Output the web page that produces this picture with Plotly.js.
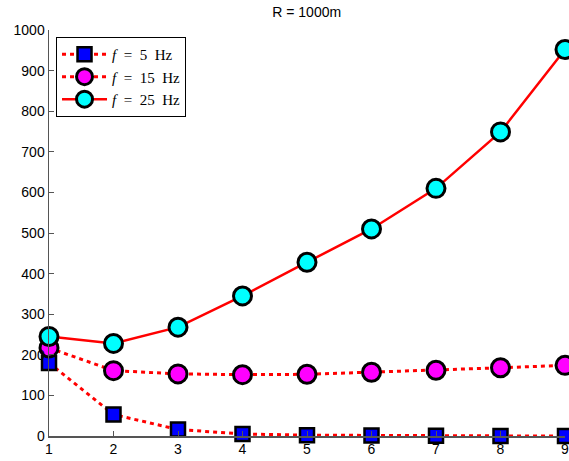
<!DOCTYPE html>
<html>
<head>
<meta charset="utf-8">
<script src="https://cdn.plot.ly/plotly-3.0.1.min.js"></script>
<style>html,body{margin:0;padding:0;background:#fff;}#chart{width:569px;height:461px;}</style>
</head>
<body>
<div id="chart"></div>
<script>
const xValues = [1, 2, 3, 4, 5, 6, 7, 8, 9];
const f5 = [180, 53, 16, 5, 2, 1, 0.5, 0.3, 0.2];
const f15 = [217, 161, 153, 151, 152, 157, 162, 168, 174];
const f25 = [245, 228, 268, 345, 428, 510, 610, 749, 952];
const seriesNames = ['<i>f</i>&nbsp; = &nbsp;5 &nbsp;Hz', '<i>f</i>&nbsp; = &nbsp;15 &nbsp;Hz', '<i>f</i>&nbsp; = &nbsp;25 &nbsp;Hz'];
const yTicks = [0, 100, 200, 300, 400, 500, 600, 700, 800, 900, 1000];

const traces = [
  {x: xValues, y: f5, name: seriesNames[0], mode: 'lines+markers', cliponaxis: false,
   line: {color: '#ff0000', width: 3, dash: '4px,4px'},
   marker: {symbol: 'square', size: 14, color: '#0000ff', line: {color: '#000', width: 2.5}}},
  {x: xValues, y: f15, name: seriesNames[1], mode: 'lines+markers', cliponaxis: false,
   line: {color: '#ff0000', width: 3, dash: '4px,4px'},
   marker: {symbol: 'circle', size: 18, color: '#ff00ff', line: {color: '#000', width: 3}}},
  {x: xValues, y: f25, name: seriesNames[2], mode: 'lines+markers', cliponaxis: false,
   line: {color: '#ff0000', width: 2.5},
   marker: {symbol: 'circle', size: 18, color: '#00ffff', line: {color: '#000', width: 3}}}
];

const layout = {
  width: 569, height: 461,
  margin: {l: 49, r: 4, t: 30, b: 25},
  paper_bgcolor: '#fff', plot_bgcolor: '#fff',
  font: {family: 'Liberation Sans, Arial, sans-serif', size: 14, color: '#000'},
  title: {text: 'R = 1000m', font: {size: 14, color: '#000'}, x: 0.539, xanchor: 'center', y: 0.974, yanchor: 'middle'},
  xaxis: {range: [1, 9], tickvals: xValues, ticks: 'inside', ticklen: 5, tickcolor: '#555',
          showline: true, linecolor: '#555', linewidth: 1.5, showgrid: false, zeroline: false,
          tickfont: {size: 14}, ticklabeloverflow: 'allow'},
  yaxis: {range: [0, 1000], tickvals: yTicks, ticks: 'inside', ticklen: 5, tickcolor: '#555',
          showline: true, linecolor: '#555', linewidth: 1.5, showgrid: false, zeroline: false,
          tickfont: {size: 14}},
  showlegend: true,
  legend: {x: 0.0136, y: 0.983, xanchor: 'left', yanchor: 'top', bgcolor: '#fff',
           bordercolor: '#000', borderwidth: 1, tracegroupgap: 0, itemwidth: 45,
           font: {family: 'Liberation Serif, Times New Roman, serif', size: 15, color: '#000'}}
};

Plotly.newPlot('chart', traces, layout, {displayModeBar: false, staticPlot: true});
</script>
</body>
</html>
